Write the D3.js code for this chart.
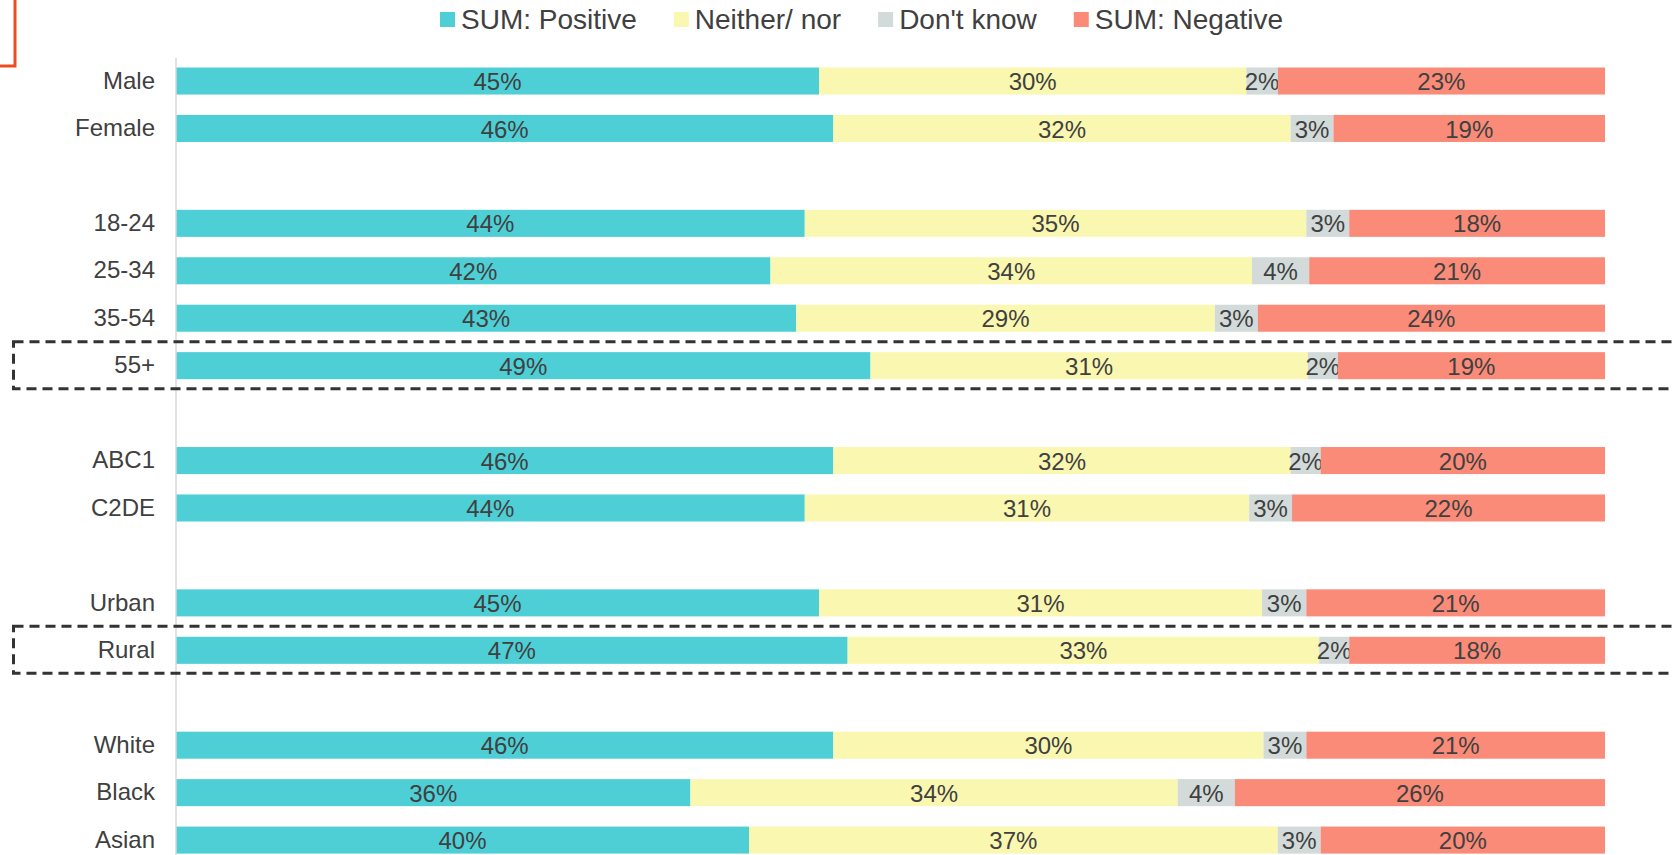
<!DOCTYPE html>
<html>
<head>
<meta charset="utf-8">
<script src="https://cdn.jsdelivr.net/npm/d3@7"></script>
<style>
  body { margin: 0; background: #fff; }
  text { font-family: "Liberation Sans", Arial, sans-serif; fill: #404040; }
</style>
</head>
<body>
<svg id="chart" width="1672" height="855"></svg>
<script>
// rows, with blank keys for the gaps between groups
const categories = ['Male', 'Female', 'gap1', '18-24', '25-34', '35-54', '55+', 'gap2',
  'ABC1', 'C2DE', 'gap3', 'Urban', 'Rural', 'gap4', 'White', 'Black', 'Asian']
const highlighted = ['55+', 'Rural']

const seriesNames = ['SUM: Positive', 'Neither/ nor', "Don't know", 'SUM: Negative']
const seriesColors = ['#4ECFD6', '#FAF7B0', '#D2DBD9', '#F98B78']

// values per row (gaps left out), in %
const positive = { Male: 45.0, Female: 46.0, '18-24': 44.0, '25-34': 41.6, '35-54': 43.4, '55+': 48.6,
  ABC1: 46.0, C2DE: 44.0, Urban: 45.0, Rural: 47.0, White: 46.0, Black: 36.0, Asian: 40.1 }
const neither = { Male: 29.9, Female: 32.0, '18-24': 35.1, '25-34': 33.7, '35-54': 29.3, '55+': 30.6,
  ABC1: 32.0, C2DE: 31.1, Urban: 31.0, Rural: 33.0, White: 30.1, Black: 34.1, Asian: 37.0 }
const dontKnow = { Male: 2.2, Female: 3.0, '18-24': 3.0, '25-34': 4.0, '35-54': 3.0, '55+': 2.1,
  ABC1: 2.1, C2DE: 3.0, Urban: 3.1, Rural: 2.1, White: 3.0, Black: 4.0, Asian: 3.0 }
const negative = { Male: 22.9, Female: 19.0, '18-24': 17.9, '25-34': 20.7, '35-54': 24.3, '55+': 18.7,
  ABC1: 19.9, C2DE: 21.9, Urban: 20.9, Rural: 17.9, White: 20.9, Black: 25.9, Asian: 19.9 }
const seriesValues = [positive, neither, dontKnow, negative]

const svg = d3.select('#chart')

const x = d3.scaleLinear().domain([0, 100]).range([176, 1605])
const y = d3.scaleBand()
  .domain(categories)
  .range([57.3, 863.8])
  .paddingInner(0.43)
  .paddingOuter(0.215)

const rows = categories.filter(c => !c.startsWith('gap'))
const table = rows.map(c => {
  const r = { cat: c }
  seriesNames.forEach((s, i) => { r[s] = seriesValues[i][c] })
  return r
})
const stacked = d3.stack().keys(seriesNames)(table)

// bars
const layer = svg.selectAll('g.layer')
  .data(stacked)
  .enter()
  .append('g')
  .attr('class', 'layer')
  .attr('fill', (d, i) => seriesColors[i])

layer.selectAll('rect')
  .data(d => d)
  .enter()
  .append('rect')
  .attr('x', d => x(d[0]))
  .attr('y', d => y(d.data.cat))
  .attr('width', d => x(d[1]) - x(d[0]))
  .attr('height', y.bandwidth())

// value labels
layer.selectAll('text')
  .data(d => d)
  .enter()
  .append('text')
  .attr('x', d => (x(d[0]) + x(d[1])) / 2)
  .attr('y', d => y(d.data.cat) + y.bandwidth() / 2)
  .attr('dy', '0.38em')
  .attr('text-anchor', 'middle')
  .style('font-size', '24px')
  .text(d => Math.round(d[1] - d[0]) + '%')

// category axis
const yAxis = svg.append('g')
  .attr('transform', 'translate(176,0)')
  .call(d3.axisLeft(y).tickSize(0).tickPadding(21).tickFormat(d => d.startsWith('gap') ? '' : d))
yAxis.select('.domain').remove()
yAxis.selectAll('text')
  .style('font-size', '24px')
  .style('font-family', '"Liberation Sans", Arial, sans-serif')
  .attr('fill', '#404040')

svg.append('line')
  .attr('x1', 176).attr('x2', 176)
  .attr('y1', 58).attr('y2', 855)
  .attr('stroke', '#d9d9d9')
  .attr('stroke-width', 1.5)

// dashed highlight boxes
svg.selectAll('rect.hl')
  .data(highlighted)
  .enter()
  .append('rect')
  .attr('class', 'hl')
  .attr('x', 13.5)
  .attr('y', d => y(d) + y.bandwidth() / 2 - 24)
  .attr('width', 1700)
  .attr('height', 47)
  .attr('fill', 'none')
  .attr('stroke', '#333')
  .attr('stroke-width', 3)
  .attr('stroke-dasharray', '10,6')

// orange corner at top left
svg.append('rect')
  .attr('x', -10).attr('y', -10)
  .attr('width', 25).attr('height', 76)
  .attr('fill', 'none')
  .attr('stroke', '#F04A23')
  .attr('stroke-width', 3)

// legend
const legend = svg.append('g')
let lx = 440
seriesNames.forEach((s, i) => {
  legend.append('rect')
    .attr('x', lx).attr('y', 12)
    .attr('width', 15).attr('height', 15)
    .attr('fill', seriesColors[i])
  const t = legend.append('text')
    .attr('x', lx + 21).attr('y', 19)
    .attr('dy', '0.36em')
    .style('font-size', '28px')
    .text(s)
  lx += 21 + t.node().getComputedTextLength() + 37
})
</script>
</body>
</html>
